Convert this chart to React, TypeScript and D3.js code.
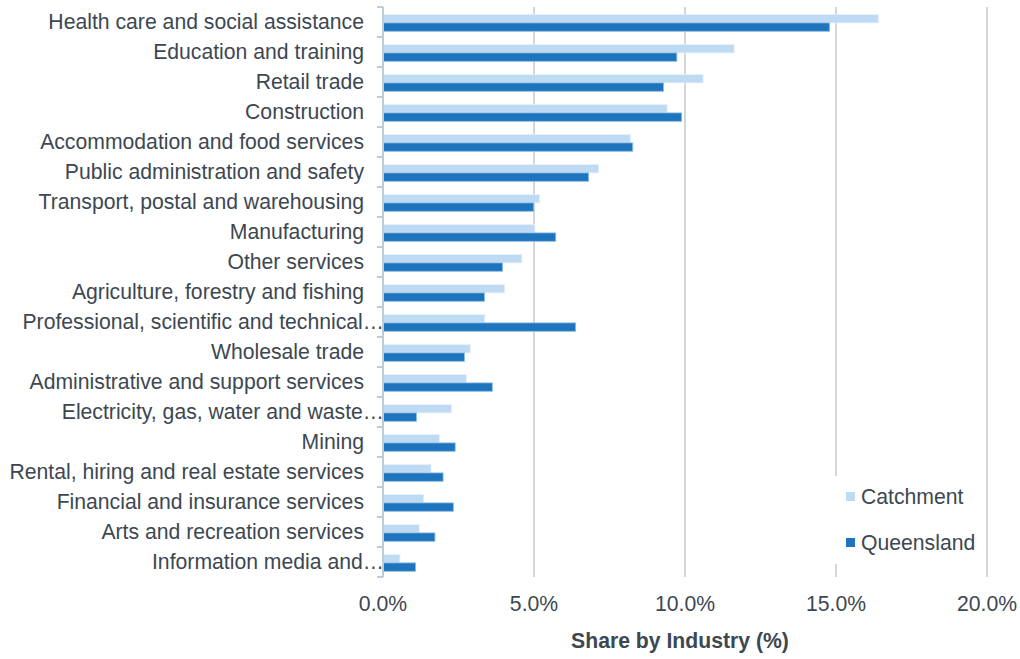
import React from "react";
import * as d3 from "d3";

const categories = [
  "Health care and social assistance",
  "Education and training",
  "Retail trade",
  "Construction",
  "Accommodation and food services",
  "Public administration and safety",
  "Transport, postal and warehousing",
  "Manufacturing",
  "Other services",
  "Agriculture, forestry and fishing",
  "Professional, scientific and technical…",
  "Wholesale trade",
  "Administrative and support services",
  "Electricity, gas, water and waste…",
  "Mining",
  "Rental, hiring and real estate services",
  "Financial and insurance services",
  "Arts and recreation services",
  "Information media and…",
];

const catchment = [16.4, 11.63, 10.6, 9.41, 8.19, 7.14, 5.19, 5.03, 4.6, 4.03, 3.37, 2.89, 2.76, 2.27, 1.87, 1.59, 1.35, 1.2, 0.56];
const queensland = [14.79, 9.73, 9.29, 9.89, 8.27, 6.81, 4.99, 5.72, 3.96, 3.36, 6.38, 2.7, 3.62, 1.11, 2.39, 1.99, 2.33, 1.72, 1.08];

const xTicks = [0, 5, 10, 15, 20];
const seriesNames = ["Catchment", "Queensland"];
const seriesColors = ["#bfdbf3", "#1f75bd"];

const W = 1020;
const H = 659;
const left = 383;
const right = 987;
const top = 7;
const bottom = 577;
const textColor = "#3d4751";
const gridColor = "#c1cbd3";
const fontFamily = "'Liberation Sans', Arial, sans-serif";
const fs = 21.2;

export default function App() {
  const x = d3.scaleLinear().domain([0, 20]).range([left, right]);
  const y = d3.scaleBand<string>().domain(categories).range([top, bottom]);
  const bw = y.bandwidth();
  const barH = bw * 0.28;
  const off = bw * 0.25;

  return (
    <svg
      width={W}
      height={H}
      style={{ position: "absolute", left: 0, top: 0, background: "#fff" }}
      fontFamily={fontFamily}
    >
      {xTicks.map((t) => (
        <line key={"g" + t} x1={x(t)} x2={x(t)} y1={top} y2={bottom} stroke={gridColor} strokeWidth={1.5} />
      ))}
      {categories.map((c, i) => {
        const y0 = y(c)!;
        return (
          <g key={c}>
            <rect
              x={x(0)}
              y={y0 + off}
              width={x(catchment[i]) - x(0)}
              height={barH}
              fill={seriesColors[0]}
              stroke="#e6f1fb"
              strokeWidth={0.8}
            />
            <rect
              x={x(0)}
              y={y0 + off + barH}
              width={x(queensland[i]) - x(0)}
              height={barH}
              fill={seriesColors[1]}
              stroke="#8fbde3"
              strokeWidth={0.8}
            />
          </g>
        );
      })}
      <line x1={left} x2={left} y1={top} y2={bottom} stroke={gridColor} strokeWidth={2} />
      {d3.range(categories.length + 1).map((i) => {
        const yy = top + i * bw;
        return <line key={"t" + i} x1={left - 6} x2={left} y1={yy} y2={yy} stroke={gridColor} strokeWidth={2} />;
      })}
      {categories.map((c) => {
        const trunc = c.endsWith("…");
        return (
          <text
            key={"l" + c}
            x={trunc ? left + 1 : left - 19}
            y={y(c)! + bw / 2}
            dy="0.35em"
            textAnchor="end"
            fontSize={fs}
            fill={textColor}
          >
            {c}
          </text>
        );
      })}
      {xTicks.map((t) => (
        <text key={"x" + t} x={x(t)} y={611} textAnchor="middle" fontSize={fs} fill={textColor}>
          {t.toFixed(1) + "%"}
        </text>
      ))}
      <text x={(left + right) / 2 - 5} y={648} textAnchor="middle" fontSize={fs} fontWeight="bold" fill={textColor}>
        Share by Industry (%)
      </text>
      <rect x={832} y={476} width={153} height={88} fill="#fff" />
      {seriesNames.map((s, i) => (
        <g key={s}>
          <rect x={846} y={492 + i * 46} width={9} height={9} fill={seriesColors[i]} />
          <text x={861} y={504 + i * 46} fontSize={fs} fill={textColor}>
            {s}
          </text>
        </g>
      ))}
    </svg>
  );
}
